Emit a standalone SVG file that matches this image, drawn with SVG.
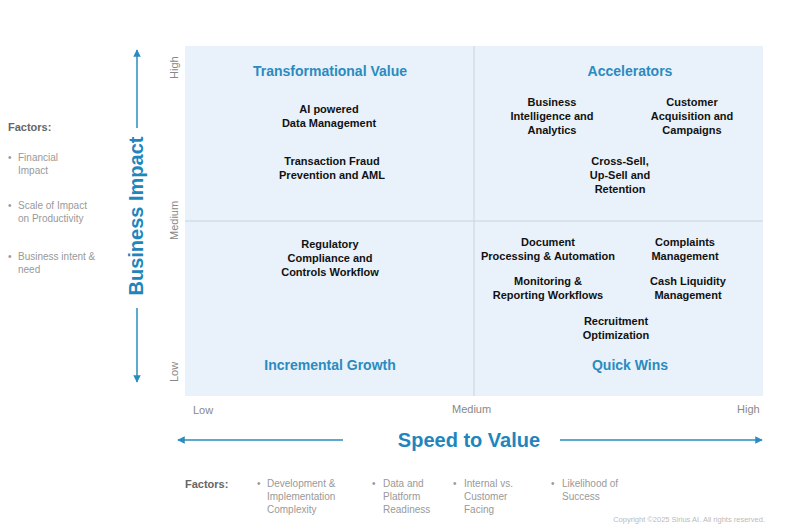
<svg xmlns="http://www.w3.org/2000/svg" width="800" height="530" viewBox="0 0 800 530">
<defs>
<style>
text{font-family:"Liberation Sans",Arial,sans-serif}
.q{fill:#2A8BC0;font-size:14px;font-weight:bold}
.n{fill:#111;font-size:11px;font-weight:bold;text-anchor:middle}
.g{fill:#999;font-size:10px}
.t{fill:#888;font-size:11px}
.ax{stroke:#2A8BC0;stroke-width:1.5;fill:none}
.big{fill:#1E86BD;font-size:20px;font-weight:bold;text-anchor:middle}
</style>
<marker id="ah" viewBox="0 0 10 10" refX="9" refY="5" markerWidth="5" markerHeight="5" orient="auto-start-reverse"><path d="M0,0L10,5L0,10z" fill="#2A8BC0"/></marker>
</defs>
<rect width="800" height="530" fill="#fff"/>
<g id="grid">
<rect x="185" y="46" width="578" height="350" fill="#E9F1FA"/>
<line x1="474" y1="46" x2="474" y2="396" stroke="#C9D4DE" stroke-width="1"/>
<line x1="185" y1="221" x2="763" y2="221" stroke="#C9D4DE" stroke-width="1"/>
</g>
<g id="quadrants" text-anchor="middle">
<text class="q" x="330" y="76">Transformational Value</text>
<text class="q" x="630" y="76">Accelerators</text>
<text class="q" x="330" y="370">Incremental Growth</text>
<text class="q" x="630" y="370">Quick Wins</text>
</g>
<g id="n1"><text class="n" x="329" y="113">AI powered</text><text class="n" x="329" y="127">Data Management</text></g>
<g id="n2"><text class="n" x="332" y="165">Transaction Fraud</text><text class="n" x="332" y="179">Prevention and AML</text></g>
<g id="n3"><text class="n" x="330" y="248">Regulatory</text><text class="n" x="330" y="262">Compliance and</text><text class="n" x="330" y="276">Controls Workflow</text></g>
<g id="n4"><text class="n" x="552" y="106">Business</text><text class="n" x="552" y="120">Intelligence and</text><text class="n" x="552" y="134">Analytics</text></g>
<g id="n5"><text class="n" x="692" y="106">Customer</text><text class="n" x="692" y="120">Acquisition and</text><text class="n" x="692" y="134">Campaigns</text></g>
<g id="n6"><text class="n" x="620" y="165">Cross-Sell,</text><text class="n" x="620" y="179">Up-Sell and</text><text class="n" x="620" y="193">Retention</text></g>
<g id="n7"><text class="n" x="548" y="246">Document</text><text class="n" x="548" y="260">Processing &amp; Automation</text></g>
<g id="n8"><text class="n" x="685" y="246">Complaints</text><text class="n" x="685" y="260">Management</text></g>
<g id="n9"><text class="n" x="548" y="285">Monitoring &amp;</text><text class="n" x="548" y="299">Reporting Workflows</text></g>
<g id="n10"><text class="n" x="688" y="285">Cash Liquidity</text><text class="n" x="688" y="299">Management</text></g>
<g id="n11"><text class="n" x="616" y="325">Recruitment</text><text class="n" x="616" y="339">Optimization</text></g>
<g id="axes">
<line class="ax" x1="137" y1="128" x2="137" y2="50" marker-end="url(#ah)"/>
<line class="ax" x1="137" y1="308" x2="137" y2="382" marker-end="url(#ah)"/>
<text class="big" transform="translate(143,216) rotate(-90)">Business Impact</text>
<line class="ax" x1="343" y1="440" x2="178" y2="440" marker-end="url(#ah)"/>
<line class="ax" x1="560" y1="440" x2="762" y2="440" marker-end="url(#ah)"/>
<text class="big" x="469" y="447">Speed to Value</text>
<text class="t" transform="translate(178,79) rotate(-90)">High</text>
<text class="t" transform="translate(178,240) rotate(-90)">Medium</text>
<text class="t" transform="translate(178,382) rotate(-90)">Low</text>
<text class="t" x="193" y="414">Low</text>
<text class="t" x="452" y="413">Medium</text>
<text class="t" x="737" y="413">High</text>
</g>
<g id="factors-left">
<text x="8" y="131" fill="#666" font-size="11" font-weight="bold">Factors:</text>
<text class="g" x="8" y="161">•</text><text class="g" x="18" y="161">Financial</text><text class="g" x="18" y="174">Impact</text>
<text class="g" x="8" y="209">•</text><text class="g" x="18" y="209">Scale of Impact</text><text class="g" x="18" y="222">on Productivity</text>
<text class="g" x="8" y="260">•</text><text class="g" x="18" y="260">Business intent &amp;</text><text class="g" x="18" y="273">need</text>
</g>
<g id="factors-bottom">
<text x="185" y="488" fill="#666" font-size="11" font-weight="bold">Factors:</text>
<text class="g" x="257" y="487">•</text><text class="g" x="267" y="487">Development &amp;</text><text class="g" x="267" y="500">Implementation</text><text class="g" x="267" y="513">Complexity</text>
<text class="g" x="372" y="487">•</text><text class="g" x="383" y="487">Data and</text><text class="g" x="383" y="500">Platform</text><text class="g" x="383" y="513">Readiness</text>
<text class="g" x="453" y="487">•</text><text class="g" x="464" y="487">Internal vs.</text><text class="g" x="464" y="500">Customer</text><text class="g" x="464" y="513">Facing</text>
<text class="g" x="551" y="487">•</text><text class="g" x="562" y="487">Likelihood of</text><text class="g" x="562" y="500">Success</text>
<text x="765" y="522" fill="#BBB" font-size="7.5" text-anchor="end">Copyright ©2025 Sirius AI. All rights reserved.</text>
</g>
</svg>
